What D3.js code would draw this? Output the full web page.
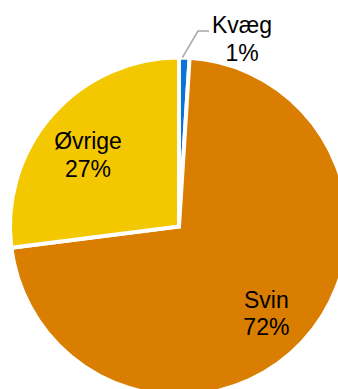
<!DOCTYPE html>
<html>
<head>
<meta charset="utf-8">
<script src="https://cdn.jsdelivr.net/npm/d3@7"></script>
<style>
  html, body { margin: 0; padding: 0; background: #fff; }
  svg { display: block; }
  text { font-family: "Liberation Sans", Arial, sans-serif; font-size: 23px; fill: #000; }
</style>
</head>
<body>
<svg id="chart" width="338" height="389"></svg>
<script>
// Share of emissions by source (%)
const categories = ["Kvæg", "Svin", "Øvrige"];
const shares = [1, 72, 27];
const sliceColors = ["#0B74D8", "#D97E00", "#F3C800"];

const width = 338, height = 389;
const cx = 179, cy = 226.5, radius = 169;

const svg = d3.select("#chart");
const g = svg.append("g").attr("transform", `translate(${cx},${cy})`);

const pie = d3.pie().sort(null).value(d => d.value);
const arcs = pie(categories.map((c, i) => ({ name: c, value: shares[i], color: sliceColors[i] })));

const arc = d3.arc().innerRadius(0).outerRadius(radius);
const labelArc = d3.arc().innerRadius(124).outerRadius(124);

g.selectAll("path.slice")
  .data(arcs)
  .join("path")
  .attr("class", "slice")
  .attr("d", arc)
  .attr("fill", d => d.data.color)
  .attr("stroke", "#fff")
  .attr("stroke-width", 4)
  .attr("stroke-linejoin", "miter");

// Inside labels: nudged from the label-arc centroid
const nudge = { "Svin": [-3, 2], "Øvrige": [2, 10] };

// Small slice gets an outside label with a leader line
const outside = "Kvæg";
const outsideAnchor = [63, -188]; // block offset from pie centre

arcs.forEach(d => {
  let x, y;
  if (d.data.name === outside) {
    const mid = (d.startAngle + d.endAngle) / 2;
    const sx = Math.sin(mid) * (radius + 1) - 2;
    const sy = -Math.cos(mid) * (radius + 1) + 1;
    const ex = 19, ey = -195.5;
    g.append("polyline")
      .attr("points", [[sx, sy], [ex, ey], [ex + 11, ey]].map(p => p.join(",")).join(" "))
      .attr("fill", "none")
      .attr("stroke", "#A6A6A6")
      .attr("stroke-width", 1.5);
    [x, y] = outsideAnchor;
  } else {
    const [lx, ly] = labelArc.centroid(d);
    const [nx, ny] = nudge[d.data.name];
    x = lx + nx;
    y = ly + ny;
  }
  const t = g.append("text")
    .attr("text-anchor", "middle")
    .attr("x", x)
    .attr("y", y - 5.5);
  t.append("tspan").attr("x", x).text(d.data.name);
  t.append("tspan").attr("x", x).attr("dy", "1.2em").text(d3.format(".0f")(d.data.value) + "%");
});
</script>
</body>
</html>
